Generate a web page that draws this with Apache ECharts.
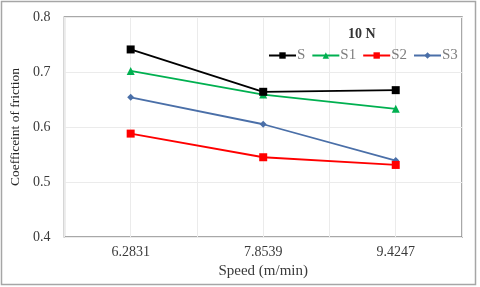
<!DOCTYPE html>
<html><head><meta charset="utf-8">
<script src="https://cdn.jsdelivr.net/npm/echarts@6/dist/echarts.min.js"></script>
<style>html,body{margin:0;padding:0;background:#fff}#c{width:480px;height:287px}</style>
</head><body><div id="c"></div>
<script>
const categories = ['6.2831', '7.8539', '9.4247'];
const seriesNames = ['S', 'S1', 'S2', 'S3'];
const valS  = [0.741, 0.664, 0.667];
const valS1 = [0.702, 0.659, 0.633];
const valS2 = [0.588, 0.545, 0.531];
const valS3 = [0.654, 0.605, 0.539];
const yTicks = [0.4, 0.5, 0.6, 0.7, 0.8];

const FONT = '"Liberation Serif", "DejaVu Serif", serif';
const chart = echarts.init(document.getElementById('c'));
const colors = ['#000000', '#00b050', '#ff0000', '#4a6fa8'];
const symbols = ['rect', 'triangle', 'rect', 'diamond'];
const sizes = [8, 8, 8, 7];
const vals = [valS, valS1, valS2, valS3];

chart.setOption({
  animation: false,
  graphic: [{
    type: 'rect', shape: {x: 1.5, y: 1.5, width: 474, height: 283},
    style: {fill: 'none', stroke: '#a6a6a6', lineWidth: 1.5}, z: 0
  }, {
    type: 'text', left: 348, top: 27,
    style: {text: '10 N', font: 'bold 14px ' + FONT, fill: '#333'}
  }],
  grid: {left: 62, top: 17, width: 400, height: 220, containLabel: false,
         show: true, borderColor: '#8c8c8c', borderWidth: 1.5},
  legend: {
    data: seriesNames, left: 263, top: 43, itemGap: 6, itemWidth: 27, itemHeight: 8,
    textStyle: {fontFamily: FONT, fontSize: 15, color: '#7f7f7f', padding: [0,0,0,-4]}
  },
  xAxis: [{
    type: 'category', data: categories, boundaryGap: true,
    axisLine: {show: false}, axisTick: {show: false},
    splitLine: {show: false},
    axisLabel: {fontFamily: FONT, fontSize: 14, color: '#3a3a3a', margin: 8},
    name: 'Speed (m/min)', nameLocation: 'middle', nameGap: 22,
    nameTextStyle: {fontFamily: FONT, fontSize: 15, color: '#3a3a3a'}
  }, {
    type: 'category', data: ['', '', '', '', '', ''], boundaryGap: true,
    position: 'bottom', show: true,
    axisLine: {show: false}, axisTick: {show: false}, axisLabel: {show: false},
    splitLine: {show: true, lineStyle: {color: '#ebebeb', width: 1}}
  }],
  yAxis: {
    type: 'value', min: yTicks[0], max: yTicks[yTicks.length - 1], interval: 0.1,
    axisLine: {show: false}, axisTick: {show: false},
    splitLine: {show: true, lineStyle: {color: '#ebebeb', width: 1}},
    axisLabel: {fontFamily: FONT, fontSize: 14, color: '#3a3a3a', margin: 14,
                formatter: v => v.toFixed(1)},
    name: 'Coefficeint of friction', nameLocation: 'middle', nameGap: 40,
    nameTextStyle: {fontFamily: FONT, fontSize: 13.5, color: '#262626'}
  },
  series: seriesNames.map((n, i) => ({
    name: n, type: 'line', data: vals[i], xAxisIndex: 0,
    symbol: symbols[i], symbolSize: sizes[i], showSymbol: true,
    lineStyle: {color: colors[i], width: 1.8},
    itemStyle: {color: colors[i]}, z: 10 - i
  }))
});
</script></body></html>
